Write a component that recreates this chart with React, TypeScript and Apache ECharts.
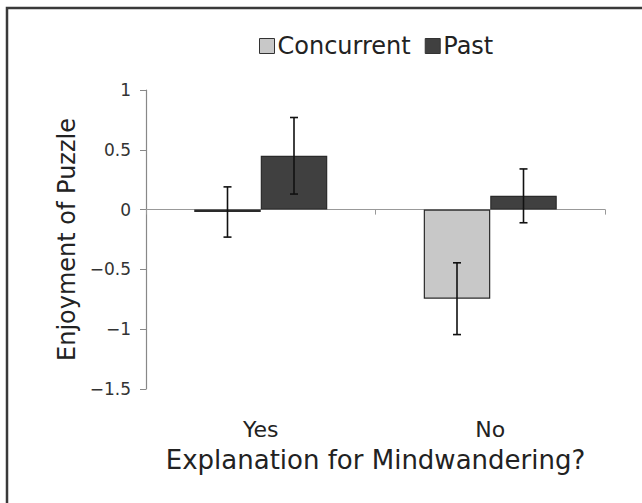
import React, { useEffect, useRef } from "react";
import * as echarts from "echarts";

const categories = ["Yes", "No"];
const seriesNames = ["Concurrent", "Past"];
const concurrentValues = [-0.02, -0.745];
const pastValues = [0.45, 0.115];
const concurrentErrors = [0.21, 0.3];
const pastErrors = [0.32, 0.225];
const yTicks = { min: -1.5, max: 1, interval: 0.5 };

const FONT = "DejaVu Sans";

export default function App() {
  const ref = useRef<HTMLDivElement>(null);
  useEffect(() => {
    if (!ref.current) return;
    const chart = echarts.init(ref.current, undefined, { renderer: "svg" });
    const barW = 66.5;
    const errSeries = (vals: number[], errs: number[], offset: number, name: string) => ({
      type: "custom",
      name: name + "-err",
      xAxisIndex: 0,
      yAxisIndex: 0,
      z: 10,
      silent: true,
      data: vals.map((v, i) => [i, v - errs[i], v + errs[i]]),
      renderItem: (params: any, api: any) => {
        const x = api.value(0);
        const lo = api.coord([x, api.value(1)]);
        const hi = api.coord([x, api.value(2)]);
        const cx = lo[0] + offset;
        const cap = 4;
        const style = { stroke: "#111", lineWidth: 1.6 };
        return {
          type: "group",
          children: [
            { type: "line", shape: { x1: cx, y1: hi[1], x2: cx, y2: lo[1] }, style },
            { type: "line", shape: { x1: cx - cap, y1: hi[1], x2: cx + cap, y2: hi[1] }, style },
            { type: "line", shape: { x1: cx - cap, y1: lo[1], x2: cx + cap, y2: lo[1] }, style },
          ],
        };
      },
    });
    chart.setOption({
      animation: false,
      textStyle: { fontFamily: FONT },
      graphic: [
        {
          type: "rect",
          shape: { x: 7, y: 8, width: 700, height: 600 },
          style: { fill: "none", stroke: "#3a3a3a", lineWidth: 2.5 },
          silent: true,
        },
      ],
      legend: {
        data: seriesNames,
        top: 29,
        left: 254,
        itemWidth: 15,
        itemHeight: 15,
        itemGap: 14,
        icon: "rect",
        textStyle: { fontSize: 24, color: "#222", fontFamily: FONT, padding: [0, 0, 0, -2] },
        itemStyle: { borderColor: "#333", borderWidth: 1 },
      },
      grid: { left: 146, right: 37, top: 90, bottom: 114 },
      xAxis: [
        {
          type: "category",
          data: categories,
          axisLine: { onZero: true, lineStyle: { color: "#999", width: 1.2 } },
          axisTick: { show: true, length: 5, lineStyle: { color: "#999" } },
          axisLabel: { show: false },
        },
        {
          type: "category",
          data: categories,
          position: "bottom",
          axisLine: { show: false, onZero: false },
          axisTick: { show: false },
          axisLabel: { show: true, margin: 29, fontSize: 22, color: "#222", fontFamily: FONT },
          name: "Explanation for Mindwandering?",
          nameLocation: "middle",
          nameGap: 58,
          nameTextStyle: { fontSize: 26, color: "#222", fontFamily: FONT },
        },
      ],
      yAxis: {
        type: "value",
        min: yTicks.min,
        max: yTicks.max,
        interval: yTicks.interval,
        axisLine: { show: true, lineStyle: { color: "#888", width: 1.2 } },
        axisTick: { show: true, length: 6, lineStyle: { color: "#888" } },
        splitLine: { show: false },
        axisLabel: {
          fontSize: 17,
          color: "#333",
          margin: 15,
          fontFamily: FONT,
          formatter: (v: number) => String(v).replace("-", "\u2212"),
        },
        name: "Enjoyment of Puzzle",
        nameLocation: "middle",
        nameGap: 56,
        nameTextStyle: { fontSize: 24, color: "#222", fontFamily: FONT },
      },
      series: [
        {
          type: "bar",
          name: seriesNames[0],
          data: concurrentValues,
          barWidth: barW,
          barGap: "0%",
          itemStyle: { color: "#c8c8c8", borderColor: "#2a2a2a", borderWidth: 1.2 },
        },
        {
          type: "bar",
          name: seriesNames[1],
          data: pastValues,
          barWidth: barW,
          barGap: "0%",
          itemStyle: { color: "#404040", borderColor: "#2a2a2a", borderWidth: 1.2 },
        },
        errSeries(concurrentValues, concurrentErrors, -barW / 2, seriesNames[0]),
        errSeries(pastValues, pastErrors, barW / 2, seriesNames[1]),
      ],
    });
    return () => chart.dispose();
  }, []);
  return (
    <div
      ref={ref}
      style={{ position: "fixed", left: 0, top: 0, width: 642, height: 503, background: "#fff" }}
    />
  );
}
